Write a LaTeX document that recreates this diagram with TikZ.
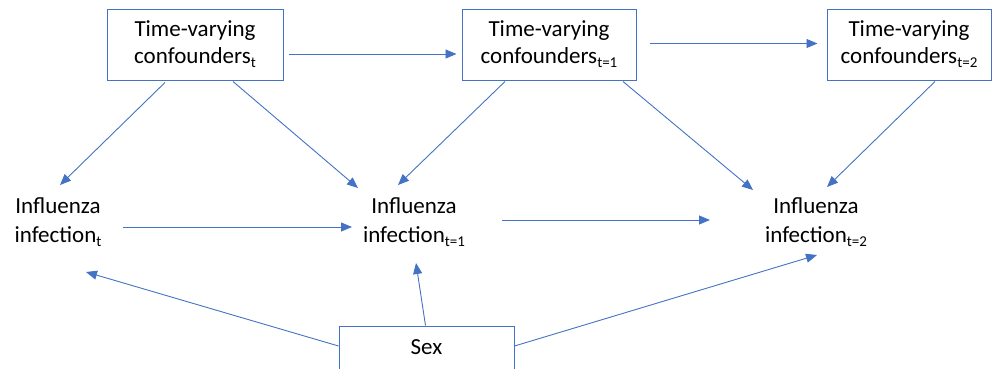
\documentclass[tikz,border=0pt]{standalone}
\usepackage{fontspec}
\setmainfont{Carlito}
\usetikzlibrary{arrows.meta,calc}
\definecolor{obl}{HTML}{4472C4}
\newcommand\sbs[1]{\raisebox{-4pt}{\fontsize{15}{15}\selectfont #1}}
\begin{document}
\begin{tikzpicture}[x=1pt,y=-1pt,
 box/.style={draw=obl,line width=1pt,minimum width=#1,minimum height=71pt,inner sep=0pt,align=center,font=\fontsize{23}{27}\selectfont},
 lbl/.style={align=center,inner sep=0pt,font=\fontsize{23}{29}\selectfont},
 arr/.style={draw=obl,line width=0.9pt,-{Triangle[length=11pt,width=9pt]}}]
\useasboundingbox (0,0) rectangle (994,368);
\node[box=176pt] (b1) at (195,44.5) {Time-varying\\confounders\sbs{t}};
\node[box=174pt] (b2) at (549,44.5) {Time-varying\\confounders\sbs{t=1}};
\node[box=164pt] (b3) at (909,44.5) {Time-varying\\confounders\sbs{t=2}};
\node[lbl] (i0) at (58,222) {Influenza\\infection\sbs{t}};
\node[lbl] (i1) at (414,222) {Influenza\\infection\sbs{t=1}};
\node[lbl] (i2) at (816,222) {Influenza\\infection\sbs{t=2}};
\node[draw=obl,line width=1pt,minimum width=175pt,minimum height=74pt,inner sep=0pt,
      font=\fontsize{23}{27}\selectfont,text height=16pt,text depth=34pt] (sex) at (426.5,363) {Sex};
% arrows
\draw[arr] ($(b1.east)+(5,9.5)$) -- ($(b2.west)+(-5,9.5)$);
\draw[arr] ($(b2.east)+(13,-1)$) -- ($(b3.west)+(-9,-1)$);
\draw[arr] ($(b1.south)+(-30,2)$) -- ($(i0)+(2,-37)$);
\draw[arr] ($(b1.south)+(38,1)$) -- ($(i1)+(-56,-34)$);
\draw[arr] ($(b2.south)+(-44,1)$) -- ($(i1)+(-16,-37)$);
\draw[arr] ($(b2.south)+(74,1)$) -- ($(i2)+(-63,-32)$);
\draw[arr] ($(b3.south)+(26,1)$) -- ($(i2)+(11,-35)$);
\draw[arr] ($(i0)+(65,5)$) -- ($(i1)+(-62,5)$);
\draw[arr] ($(i1)+(88,-2)$) -- ($(i2)+(-106,-2)$);
\draw[arr] ($(sex.west)+(0,-17)$) -- ($(i0)+(28,50)$);
\draw[arr] ($(sex.north)+(-1,0)$) -- ($(i1)+(2,41)$);
\draw[arr] ($(sex.east)+(0,-17)$) -- ($(i2)+(1,33)$);
\end{tikzpicture}
\end{document}
